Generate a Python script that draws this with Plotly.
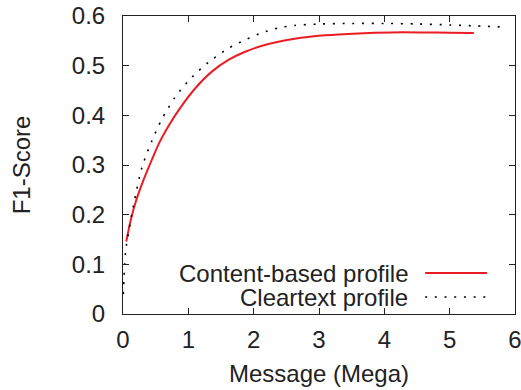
import plotly.graph_objects as go

# Content-based profile (red solid)
x_content = [0.05, 0.12, 0.20, 0.28, 0.37, 0.56, 0.65, 0.85, 1.11, 1.36, 1.62, 1.87, 2.13, 2.63, 3.09, 3.60, 4.10, 4.60, 5.00, 5.37]
y_content = [0.146, 0.190, 0.228, 0.258, 0.288, 0.346, 0.368, 0.410, 0.455, 0.488, 0.512, 0.528, 0.540, 0.554, 0.561, 0.565, 0.567, 0.567, 0.5665, 0.566]

# Cleartext profile (black dotted)
x_clear = [0.005, 0.015, 0.025, 0.04, 0.06, 0.16, 0.29, 0.44, 0.59, 0.80, 1.05, 1.31, 1.615, 1.87, 2.125, 2.38, 2.63, 3.04, 3.50, 4.00, 4.50, 5.00, 5.40, 5.80]
y_clear = [0.040, 0.070, 0.100, 0.125, 0.145, 0.218, 0.295, 0.348, 0.391, 0.437, 0.476, 0.507, 0.535, 0.552, 0.566, 0.576, 0.581, 0.584, 0.585, 0.585, 0.584, 0.582, 0.580, 0.578]

x_ticks = [0, 1, 2, 3, 4, 5, 6]
y_ticks = [0, 0.1, 0.2, 0.3, 0.4, 0.5, 0.6]
y_ticklabels = ["0", "0.1", "0.2", "0.3", "0.4", "0.5", "0.6"]

series_names = ["Content-based profile", "Cleartext profile"]

RED = "rgb(235,28,36)"
FONT = "Liberation Sans, Arial, sans-serif"
FS = 24
TXT = "#222"
DOT = "2px,7.7px"

fig = go.Figure()
fig.add_trace(go.Scatter(x=x_content, y=y_content, mode="lines", name=series_names[0],
                         line=dict(color=RED, width=2, shape="spline", smoothing=0.8)))
fig.add_trace(go.Scatter(x=x_clear, y=y_clear, mode="lines", name=series_names[1],
                         line=dict(color="black", width=1.6, dash=DOT, shape="spline", smoothing=0.8)))

W, H = 521, 390
ml, mr, mt, mb = 122.5, 6, 16, 76
pw, ph = W - ml - mr, H - mt - mb

def px2paper_x(px):
    return (px - ml) / pw

def px2paper_y(py):
    return (H - mb - py) / ph

# Legend drawn manually (gnuplot style: text right-aligned, sample to the right)
leg_rows = [(273, dict(color=RED, width=2)), (297, dict(color="black", width=1.6, dash=DOT))]
for name, (py, ln) in zip(series_names, leg_rows):
    fig.add_annotation(xref="paper", yref="paper", x=px2paper_x(409), y=px2paper_y(py),
                       text=name, showarrow=False, xanchor="right", yanchor="middle",
                       borderpad=0, font=dict(family=FONT, size=FS, color=TXT))
    fig.add_shape(type="line", xref="paper", yref="paper",
                  x0=px2paper_x(425), x1=px2paper_x(487), y0=px2paper_y(py), y1=px2paper_y(py),
                  line=ln)

axis_common = dict(showline=True, linecolor=TXT, linewidth=1, mirror="ticks",
                   ticks="inside", ticklen=6, tickcolor=TXT, showgrid=False, zeroline=False,
                   ticklabeloverflow="allow",
                   tickfont=dict(family=FONT, size=FS, color=TXT))

fig.update_layout(
    width=W, height=H,
    margin=dict(l=ml, r=mr, t=mt, b=mb, pad=0, autoexpand=False),
    paper_bgcolor="white", plot_bgcolor="white",
    showlegend=False,
    xaxis=dict(range=[0, 6], tickvals=x_ticks, ticktext=[str(v) for v in x_ticks],
               ticklabelstandoff=4,
               title=dict(text="Message (Mega)", font=dict(family=FONT, size=FS, color=TXT), standoff=13),
               **axis_common),
    yaxis=dict(range=[0, 0.6], tickvals=y_ticks, ticktext=y_ticklabels,
               ticklabelstandoff=12,
               title=dict(text="F1-Score", font=dict(family=FONT, size=FS, color=TXT), standoff=34),
               **axis_common),
)

fig.write_html("out.html", config={"displayModeBar": False},
               post_script="document.body.style.margin='0';document.body.style.overflow='hidden';")
